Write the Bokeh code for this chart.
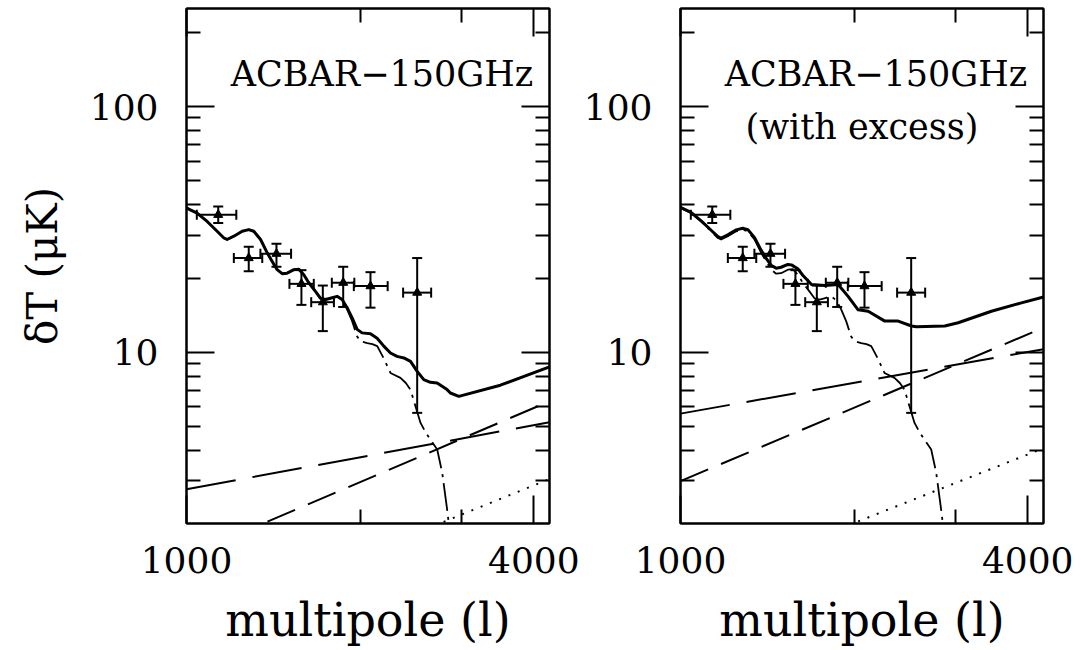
from bokeh.plotting import figure
from bokeh.models import (FixedTicker, LogAxis, Whisker, TeeHead, ColumnDataSource,
                          Label, PrintfTickFormatter, Range1d)
from bokeh.layouts import row
from bokeh.embed import file_html
from bokeh.resources import INLINE

# ---------------- data ----------------
# ACBAR 150 GHz band powers
pt_l = [1135, 1282, 1432, 1582, 1723, 1869, 2084, 2511]
pt_y = [36.3, 24.2, 25.2, 19.0, 16.0, 19.2, 18.6, 17.5]
pt_l_lo = [1042, 1208, 1343, 1508, 1645, 1786, 1950, 2374]
pt_l_hi = [1220, 1353, 1518, 1662, 1801, 1954, 2232, 2655]
pt_y_lo = [33.6, 21.4, 22.3, 15.6, 12.2, 15.3, 15.2, 5.67]
pt_y_hi = [39.2, 26.9, 27.7, 21.6, 18.7, 22.3, 21.2, 24.2]

# primary CMB (dash-dot), same in both panels
cmb_l = [1000, 1009, 1043, 1086, 1130, 1161, 1176, 1208, 1249, 1282, 1308, 1344, 1380,
         1407, 1436, 1465, 1494, 1535, 1566, 1597, 1629, 1673, 1707, 1742, 1776, 1824,
         1861, 1898, 1937, 1976, 2003, 2057, 2100, 2141, 2200, 2257, 2349, 2400, 2445,
         2494, 2545, 2600, 2648, 2720, 2775, 2830, 2848, 2870]
cmb_y = [38.8, 38.3, 36.9, 34.1, 31.1, 29.2, 28.8, 29.7, 31.1, 31.6, 31.1, 28.8, 25.4,
         23.5, 21.7, 20.9, 21.0, 21.7, 21.8, 20.7, 19.2, 17.7, 16.6, 16.4, 16.6, 16.9,
         16.3, 15.0, 13.4, 11.6, 11.1, 10.9, 10.8, 10.6, 9.4, 8.24, 7.87, 7.5, 7.05,
         6.03, 5.16, 4.7, 4.41, 4.02, 3.23, 2.29, 2.02, 1.6]

# left panel: total (solid)
tot1_l = [1000, 1009, 1043, 1086, 1130, 1161, 1176, 1208, 1249, 1282, 1308, 1344, 1380,
          1407, 1436, 1465, 1494, 1535, 1566, 1597, 1629, 1673, 1707, 1742, 1776, 1824,
          1861, 1898, 1937, 1976, 2015, 2084, 2140, 2198, 2257, 2317, 2381, 2445, 2511,
          2578, 2647, 2719, 2829, 2867, 2965, 3500, 4258]
tot1_y = [38.8, 38.3, 36.9, 34.1, 31.1, 29.2, 28.8, 29.7, 31.1, 31.6, 31.1, 28.8, 25.4,
          23.5, 21.7, 20.9, 21.0, 21.7, 21.8, 20.7, 19.2, 17.7, 16.6, 16.4, 16.6, 16.9,
          16.4, 15.2, 13.8, 12.4, 12.0, 11.9, 11.4, 10.6, 9.94, 9.63, 9.49, 9.19, 8.37,
          7.74, 7.55, 7.50, 7.05, 6.83, 6.62, 7.35, 8.72]
# left panel foreground components
ld1_l = [1000, 4258]; ld1_y = [2.77, 5.19]      # long dash
sd1_l = [1000, 4258]; sd1_y = [1.48, 6.32]      # short dash
dt1_l = [2790, 4258]; dt1_y = [2.04, 3.05]      # dotted

# right panel (with excess): total (solid)
tot2_l = [1000, 1043, 1086, 1130, 1161, 1176, 1208, 1249, 1282, 1308, 1344, 1380, 1407,
          1436, 1465, 1494, 1535, 1557, 1597, 1629, 1687, 1779, 1876, 1952, 2032, 2115,
          2260, 2384, 2514, 2564, 2871, 3029, 3459, 3899, 4258]
tot2_y = [38.9, 37.1, 34.3, 31.4, 29.6, 29.2, 30.1, 31.5, 32.0, 31.6, 29.3, 26.0, 24.2,
          22.6, 22.0, 22.2, 22.8, 22.7, 21.9, 20.6, 18.9, 18.7, 18.9, 16.9, 14.9, 14.7,
          13.4, 13.4, 12.8, 12.7, 12.8, 13.2, 14.7, 15.9, 16.8]
ld2_l = [1000, 4258]; ld2_y = [5.63, 10.3]
sd2_l = [1000, 4258]; sd2_y = [2.99, 12.6]
dt2_l = [2032, 4258]; dt2_y = [2.05, 4.07]

x_major = [1000, 4000]
x_minor = [2000, 3000]
y_major = [10, 100]
y_minor = [3, 4, 5, 6, 7, 8, 9, 20, 30, 40, 50, 60, 70, 80, 90, 200]

FONT = "DejaVu Serif"


def style_axis(ax, labels=True, standoff=27):
    ax.axis_line_width = 2
    ax.axis_line_color = "black"
    ax.major_tick_line_width = 2
    ax.minor_tick_line_width = 2
    ax.major_tick_in = 28
    ax.major_tick_out = 0
    ax.minor_tick_in = 14
    ax.minor_tick_out = 0
    ax.major_label_text_font = FONT
    ax.major_label_text_color = "black"
    if labels:
        ax.major_label_text_font_size = "36px"
        ax.major_label_standoff = standoff
    else:
        ax.major_label_text_font_size = "1px"
        ax.major_label_text_alpha = 0
        ax.major_label_standoff = 0


def panel(tot_l, tot_y, ld_l, ld_y, sd_l, sd_y, dt_l, dt_y, left, extra_text):
    p = figure(x_axis_type="log", y_axis_type="log",
               x_range=Range1d(1000, 4258), y_range=Range1d(2.01, 251),
               frame_width=363, frame_height=515,
               min_border_left=186 if left else 99,
               min_border_right=31 if left else 30,
               min_border_top=8, min_border_bottom=126,
               output_backend="svg", toolbar_location=None)
    p.grid.visible = False
    p.outline_line_color = "black"
    p.outline_line_width = 2
    p.background_fill_color = "white"
    p.border_fill_color = "white"

    p.xaxis.ticker = FixedTicker(ticks=x_major, minor_ticks=x_minor)
    p.yaxis.ticker = FixedTicker(ticks=y_major, minor_ticks=y_minor)
    p.xaxis.formatter = PrintfTickFormatter(format="%d")
    p.yaxis.formatter = PrintfTickFormatter(format="%d")
    style_axis(p.xaxis[0], standoff=23)
    style_axis(p.yaxis[0], standoff=28)
    p.xaxis.axis_label = "multipole (l)"
    p.xaxis.axis_label_text_font = FONT
    p.xaxis.axis_label_text_font_size = "46px"
    p.xaxis.axis_label_text_font_style = "normal"
    p.xaxis.axis_label_text_color = "black"
    p.xaxis.axis_label_standoff = 17
    if left:
        p.yaxis.axis_label = "δT (μK)"
        p.yaxis.axis_label_text_font = FONT
        p.yaxis.axis_label_text_font_size = "42px"
        p.yaxis.axis_label_text_font_style = "normal"
        p.yaxis.axis_label_text_color = "black"
        p.yaxis.axis_label_standoff = 20

    top = LogAxis(ticker=FixedTicker(ticks=x_major, minor_ticks=x_minor))
    style_axis(top, labels=False)
    p.add_layout(top, "above")
    rgt = LogAxis(ticker=FixedTicker(ticks=y_major, minor_ticks=y_minor))
    style_axis(rgt, labels=False)
    p.add_layout(rgt, "right")

    # components
    p.line(ld_l, ld_y, line_color="black", line_width=2, line_dash="50 17")
    p.line(sd_l, sd_y, line_color="black", line_width=2, line_dash="30 14")
    p.line(dt_l, dt_y, line_color="black", line_width=2, line_dash="2 8")
    p.line(cmb_l, cmb_y, line_color="black", line_width=1.8, line_dash="28 6 3 6",
           line_join="round")
    p.line(tot_l, tot_y, line_color="black", line_width=3, line_join="round")

    # data points
    src = ColumnDataSource(dict(l=pt_l, y=pt_y, llo=pt_l_lo, lhi=pt_l_hi,
                                ylo=pt_y_lo, yhi=pt_y_hi))
    p.add_layout(Whisker(source=src, base="l", lower="ylo", upper="yhi", dimension="height",
                         line_width=2, line_color="black",
                         lower_head=TeeHead(size=10, line_width=2),
                         upper_head=TeeHead(size=10, line_width=2)))
    p.add_layout(Whisker(source=src, base="y", lower="llo", upper="lhi", dimension="width",
                         line_width=2, line_color="black",
                         lower_head=TeeHead(size=10, line_width=2),
                         upper_head=TeeHead(size=10, line_width=2)))
    p.scatter("l", "y", source=src, marker="triangle", size=9,
              fill_color="black", line_color="black")

    p.add_layout(Label(x=3990, y=136, text="ACBAR−150GHz", text_align="right",
                       text_baseline="middle", text_font=FONT,
                       text_font_size="35px", text_color="black"))
    if extra_text:
        p.add_layout(Label(x=2063, y=83, text=extra_text, text_align="center",
                           text_baseline="middle", text_font=FONT,
                           text_font_size="35px", text_color="black"))
    return p


p1 = panel(tot1_l, tot1_y, ld1_l, ld1_y, sd1_l, sd1_y, dt1_l, dt1_y, True, None)
p2 = panel(tot2_l, tot2_y, ld2_l, ld2_y, sd2_l, sd2_y, dt2_l, dt2_y, False, "(with excess)")

layout = row(p1, p2)
open("out.html", "w").write(file_html(layout, INLINE))
